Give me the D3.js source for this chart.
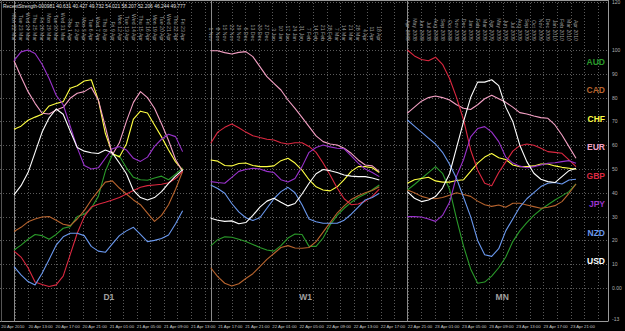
<!DOCTYPE html>
<html>
<head>
<meta charset="utf-8">
<script src="https://cdn.jsdelivr.net/npm/d3@7"></script>
<style>
  body { margin: 0; background: #000; }
  svg { display: block; }
  text { font-family: "Liberation Sans", Arial, sans-serif; }
</style>
</head>
<body>
<div id="chart"></div>
<script>
// currencies and their line colours
const currencies = ["AUD", "CAD", "CHF", "EUR", "GBP", "JPY", "NZD", "USD"];
const currencyColors = ["#2a9a2a", "#b8642e", "#ffff44", "#f4a0c4", "#dc2840", "#9a32cc", "#6a98ee", "#ffffff"];

const headerText = "RecentStrength-000981 40.631 40.427 49.732 54.021 58.207 52.206 46.244 49.777";
const panelNames = ["D1", "W1", "MN"];

const d1Labels = ["Mon 22 Mar", "Tue 23 Mar", "Wed 24 Mar", "Thu 25 Mar", "Fri 26 Mar", "Mon 29 Mar", "Tue 30 Mar",
  "Wed 31 Mar", "Thu 1 Apr", "Fri 2 Apr", "Mon 5 Apr", "Tue 6 Apr", "Wed 7 Apr", "Thu 8 Apr", "Fri 9 Apr",
  "Mon 12 Apr", "Tue 13 Apr", "Wed 14 Apr", "Thu 15 Apr", "Fri 16 Apr", "Mon 19 Apr", "Tue 20 Apr",
  "Wed 21 Apr", "Thu 22 Apr", "Fri 23 Apr"];
const w1Labels = ["1 Nov", "8 Nov", "15 Nov", "22 Nov", "29 Nov", "6 Dec", "13 Dec", "20 Dec", "27 Dec", "3 Jan",
  "10 Jan", "17 Jan", "24 Jan", "31 Jan", "7 Feb", "14 Feb", "21 Feb", "28 Feb", "7 Mar", "14 Mar", "21 Mar",
  "28 Mar", "4 Apr", "11 Apr", "18 Apr"];
const mnLabels = ["Apr 2008", "May 2008", "Jun 2008", "Jul 2008", "Aug 2008", "Sep 2008", "Oct 2008", "Nov 2008",
  "Dec 2008", "Jan 2009", "Feb 2009", "Mar 2009", "Apr 2009", "May 2009", "Jun 2009", "Jul 2009", "Aug 2009",
  "Sep 2009", "Oct 2009", "Nov 2009", "Dec 2009", "Jan 2010", "Feb 2010", "Mar 2010", "Apr 2010"];

// bottom time axis (hourly chart), one label every 4 hours
const timeLabels = ["20 Apr 2010", "20 Apr 13:00", "20 Apr 17:00", "20 Apr 21:00", "21 Apr 01:00", "21 Apr 05:00",
  "21 Apr 09:00", "21 Apr 13:00", "21 Apr 17:00", "21 Apr 21:00", "22 Apr 01:00", "22 Apr 05:00", "22 Apr 09:00",
  "22 Apr 13:00", "22 Apr 17:00", "22 Apr 21:00", "23 Apr 01:00", "23 Apr 05:00", "23 Apr 09:00", "23 Apr 13:00",
  "23 Apr 17:00", "23 Apr 21:00"];

const rightTicks = [120, 100, 90, 80, 70, 60, 50, 40, 30, 20, 10, 0, -13];
const gridValues = [120, 100, 90, 80, 70, 60, 50, 40, 30, 20, 10, 0];

// strength values, rows in currency order AUD CAD CHF EUR GBP JPY NZD USD
const d1Values = [
  [16, 18, 20.5, 22.5, 22, 20.5, 22.5, 25.1, 25.8, 30, 31, 33.5, 38.5, 49, 56, 55.5, 50.5, 46.5, 45.5, 45.3, 46.2, 47, 45.5, 47.8, 50.5],
  [23.7, 25.5, 27.8, 29, 29.8, 30, 28.5, 26.8, 26.2, 29, 32.5, 37, 40.8, 44.5, 45, 42, 39.5, 37, 35, 31.5, 28, 30.5, 35, 41.5, 49],
  [66.7, 68, 70.5, 71.8, 73, 76.5, 77.5, 78.3, 83.9, 85, 87, 87.5, 79, 65, 56.5, 55, 60.5, 71, 74.3, 73.5, 68.5, 63.5, 58, 53, 49.6],
  [95.5, 88.8, 82.5, 77.6, 73.4, 73.1, 74.8, 75.9, 79.7, 81.8, 82.5, 84.3, 79, 67.8, 56, 61, 70, 78, 82.5, 80, 75.5, 69, 62, 54, 49],
  [15.5, 13, 8.5, 2.5, 1.5, 0.6, 1.3, 5, 14, 23, 30, 34, 35.2, 36, 37, 38, 39.5, 41, 42.3, 43, 43.3, 43.6, 44.2, 46, 49],
  [95.5, 99.2, 100, 98.5, 94, 88, 81, 77, 68, 59, 51.5, 50, 50.5, 54.5, 58.5, 59.4, 58, 54.5, 53.2, 55, 59.5, 62.5, 64.6, 63.6, 57.3],
  [9, 5.5, 2.7, 1.3, 6.2, 12, 18, 21.5, 23, 23, 22, 17.5, 15.5, 15, 18.5, 22, 24, 25.5, 22.5, 19.5, 20, 20.8, 22.3, 27, 32.5],
  [39.1, 43, 48.5, 57, 65.5, 71.5, 75.2, 73, 66, 59, 57.5, 56.8, 56.5, 58, 56.8, 52.5, 48, 41, 38, 37, 38, 40.5, 44, 47, 49.6]
];
const w1Values = [
  [17.7, 20.3, 21.5, 21.3, 20.5, 19.5, 18.3, 17, 16, 15.5, 17.8, 21, 22.7, 22.5, 17.5, 17.5, 21, 26.5, 30.5, 33.5, 36, 38, 39.5, 41.3, 43.3],
  [8.5, 4.8, 2, 0.8, 1.8, 4, 6, 9, 12, 14.5, 17, 17.8, 16.8, 16.7, 17, 19.5, 23.5, 27.5, 31.5, 34.5, 37.2, 38.8, 40, 41, 42.5],
  [53.8, 53.3, 51.5, 51.3, 52.3, 52.5, 51.5, 51, 51, 51.3, 53.5, 54.5, 52.5, 49.5, 45.5, 42.5, 41.2, 40.8, 42.5, 45.5, 49, 51, 51, 50.5, 48.5],
  [99.7, 99.7, 98.9, 98.3, 99, 99.3, 97.2, 93, 88.8, 86, 83.2, 79, 75.5, 71.7, 67.8, 63.9, 61.5, 60.5, 60.1, 58.7, 56.6, 53.8, 51.7, 51.3, 48.9],
  [60.8, 65.5, 67.5, 68.9, 67.3, 65.5, 64, 63.2, 62.5, 62.2, 61, 60.5, 61, 61, 59.5, 57, 52.5, 47.5, 42, 37.5, 35, 35.3, 36.5, 38.5, 41.5],
  [44.7, 44.3, 44, 46.5, 49, 49.8, 50.3, 50, 49, 48.5, 45.5, 44.5, 46, 51, 57, 59, 60.1, 59.3, 58.7, 58.5, 55.5, 52.5, 50, 48.5, 46.8],
  [43.3, 41.8, 39.8, 35.5, 32, 29.5, 28.4, 29.5, 33.5, 37.5, 40.5, 42.3, 40, 35, 29, 27.8, 27.2, 27.2, 27.2, 28.5, 31, 34, 37, 38, 39.8],
  [29.3, 28.5, 28, 28.2, 27, 27.5, 30.5, 34, 36.5, 37.7, 36, 34.5, 35.5, 39.5, 44, 48, 49.8, 49.3, 48.5, 47.5, 47, 46.8, 46.8, 46.2, 45.4]
];
const mnValues = [
  [41.2, 43.5, 46, 48.5, 51, 48.2, 41.5, 29, 17.5, 8, 2, 2.5, 5, 8.5, 13, 19.5, 24, 27.5, 30.5, 33, 35, 37, 38.7, 40.5, 43.7],
  [41.2, 40, 38.5, 37.7, 37.5, 38, 39, 40, 39.3, 38.5, 36.5, 35, 34.3, 34.9, 33.9, 35.6, 35.6, 34.9, 34.2, 33.5, 33.9, 34.6, 36.3, 39.8, 43.7],
  [44, 45.5, 46, 46.5, 45, 44.5, 44.5, 45.2, 45.5, 49, 52.5, 55, 56.5, 54.7, 54, 51.7, 51, 51, 51.3, 52.1, 52.1, 51.3, 50.7, 50.3, 49.9],
  [73.5, 76, 78.5, 80, 80.7, 80, 79, 77, 75.5, 75, 77, 79.5, 81, 79.5, 78, 76, 73.7, 73.1, 72.3, 71.6, 71.3, 68.5, 64.3, 59.4, 54.5],
  [100, 97.5, 96, 95.5, 97, 94, 88, 80, 70.6, 58, 49.6, 44, 43, 48.5, 53, 57.5, 59.8, 60.5, 60, 58.7, 57.3, 57, 56.6, 53.8, 51],
  [30, 30, 29.8, 29, 28, 30.5, 36, 47, 54, 63.5, 67, 67.8, 65.5, 61.5, 55, 52.5, 51.2, 50.5, 51, 51.7, 52.4, 52.6, 53.1, 53.5, 52.4],
  [70.6, 68, 65.5, 63, 60.5, 57, 52, 46, 38, 30, 20, 14, 13.3, 16.5, 24, 29, 34, 37.5, 40.1, 42.6, 44, 44.3, 43.7, 45.4, 45.7],
  [40.5, 37.7, 36.3, 37, 38.4, 42, 48, 59, 70, 80, 86.5, 86.5, 87.5, 85, 76, 70, 60, 53.1, 48.2, 45.7, 44.7, 44.3, 46.8, 49.3, 50.3]
];

const width = 625;
const height = 331;
const barsPerPanel = 28; // 25 bars + gap

const panels = [
  { name: panelNames[0], start: 0, labels: d1Labels, values: d1Values },
  { name: panelNames[1], start: barsPerPanel, labels: w1Labels, values: w1Values },
  { name: panelNames[2], start: barsPerPanel * 2, labels: mnLabels, values: mnValues }
];

const svg = d3.select("#chart")
  .append("svg")
  .attr("width", width)
  .attr("height", height)
  .style("background", "#000");

// bar index -> pixel
const x = d3.scaleLinear().domain([0, 80]).range([14, 576]);
// strength -> pixel
const y = d3.scaleLinear().domain([0, 100]).range([288, 50]);
// hours on the underlying chart -> pixel (grid + bottom labels)
const xTime = d3.scaleLinear().domain([0, 84]).range([1.3, 570.5]);

const plotRight = 608;
const plotBottom = 321.5;

/* Grid */
const grid = svg.append("g")
  .attr("stroke", "#5a5a5a")
  .attr("stroke-width", 1)
  .attr("stroke-dasharray", "1,2");

grid.selectAll("line.h")
  .data(gridValues)
  .join("line")
  .attr("class", "h")
  .attr("x1", 0)
  .attr("x2", plotRight)
  .attr("y1", d => Math.round(y(d)) + 0.5)
  .attr("y2", d => Math.round(y(d)) + 0.5);

grid.selectAll("line.v")
  .data(d3.range(2, 90, 2).filter(h => xTime(h) < plotRight))
  .join("line")
  .attr("class", "v")
  .attr("x1", d => Math.round(xTime(d)) + 0.5)
  .attr("x2", d => Math.round(xTime(d)) + 0.5)
  .attr("y1", 0)
  .attr("y2", plotBottom);

/* Frame */
const frame = svg.append("g").attr("stroke", "#9a9a9a").attr("stroke-width", 1);
frame.append("line").attr("x1", 0).attr("x2", plotRight).attr("y1", 0.5).attr("y2", 0.5);
frame.append("line").attr("x1", 0).attr("x2", plotRight).attr("y1", plotBottom).attr("y2", plotBottom);
frame.append("line").attr("x1", plotRight + 0.5).attr("x2", plotRight + 0.5).attr("y1", 0).attr("y2", plotBottom);
frame.append("line").attr("x1", 1.5).attr("x2", 1.5).attr("y1", 0).attr("y2", plotBottom).attr("stroke", "#555");

// panel separators
frame.selectAll("line.sep")
  .data(panels)
  .join("line")
  .attr("class", "sep")
  .attr("stroke", "#8a8a8a")
  .attr("x1", d => Math.round(x(d.start)) + 0.5)
  .attr("x2", d => Math.round(x(d.start)) + 0.5)
  .attr("y1", 0)
  .attr("y2", plotBottom);

/* Header */
svg.append("text")
  .attr("x", 3)
  .attr("y", 8)
  .attr("fill", "#e0e0e0")
  .attr("font-size", 4.9)
  .text(headerText);

/* Right value axis */
svg.append("g")
  .selectAll("text")
  .data(rightTicks)
  .join("text")
  .attr("x", plotRight + 4)
  .attr("y", d => y(d) + 2)
  .attr("fill", "#b0b0b0")
  .attr("font-size", 5)
  .text(d => d === 0 ? "0.00" : d);

/* Bottom time axis */
svg.append("g")
  .selectAll("text")
  .data(timeLabels)
  .join("text")
  .attr("x", (d, i) => xTime(i * 4))
  .attr("y", 328)
  .attr("fill", "#c8c8c8")
  .attr("font-size", 4.3)
  .text(d => d);

/* Panels */
const line = d3.line()
  .x(d => x(d.bar))
  .y(d => y(d.value));

panels.forEach(panel => {
  const g = svg.append("g").attr("class", "panel");

  // rotated date labels along the top
  g.append("g")
    .selectAll("text")
    .data(panel.labels)
    .join("text")
    .attr("transform", (d, i) => `translate(${x(panel.start + i)},41) rotate(90)`)
    .attr("text-anchor", "end")
    .attr("dy", "0.35em")
    .attr("fill", "#9a9a9a")
    .attr("font-size", 5.2)
    .text(d => d);

  // panel name
  g.append("text")
    .attr("x", x(panel.start + 13.5))
    .attr("y", 300)
    .attr("text-anchor", "middle")
    .attr("fill", "#a0a0a0")
    .attr("font-size", 8.5)
    .attr("font-weight", "bold")
    .text(panel.name);

  // currency lines
  g.append("g")
    .attr("fill", "none")
    .attr("stroke-width", 1.1)
    .attr("stroke-linejoin", "round")
    .selectAll("path")
    .data(panel.values.map((vals, c) => ({
      color: currencyColors[c],
      points: vals.map((v, i) => ({ bar: panel.start + i, value: v }))
    })))
    .join("path")
    .attr("stroke", d => d.color)
    .attr("d", d => line(d.points));
});

/* Legend */
const legendY = d3.scalePoint().domain(currencies).range([62, 261]);
svg.append("g")
  .selectAll("text")
  .data(currencies)
  .join("text")
  .attr("x", 605)
  .attr("y", d => legendY(d) + 3)
  .attr("text-anchor", "end")
  .attr("font-size", 8.5)
  .attr("font-weight", "bold")
  .attr("fill", (d, i) => currencyColors[i])
  .text(d => d);
</script>
</body>
</html>
